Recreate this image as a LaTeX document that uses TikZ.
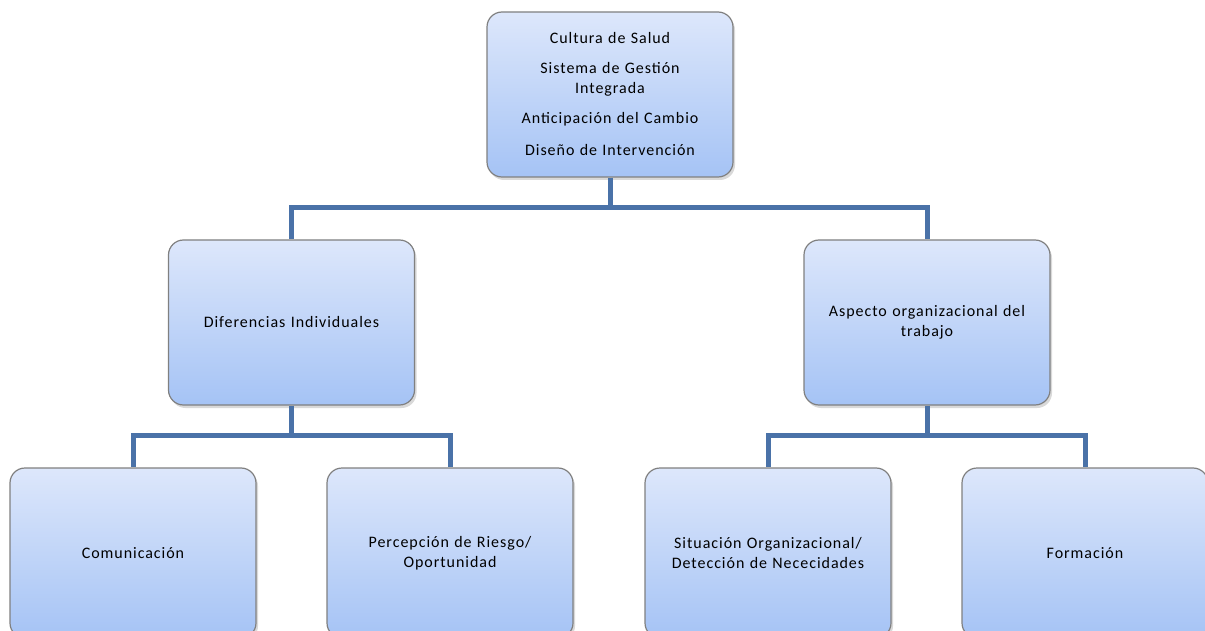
\documentclass[tikz,border=0pt]{standalone}
\usepackage{fontspec}
\setmainfont{Carlito}[LetterSpace=6]
\usetikzlibrary{shadows}
\definecolor{boxtop}{HTML}{DDE7FB}
\definecolor{boxbot}{HTML}{A5C3F5}
\definecolor{boxline}{HTML}{808080}
\definecolor{conn}{HTML}{4A72A8}
\tikzset{
  orgbox/.style={draw=boxline, line width=1.2pt, rounded corners=15pt,
    top color=boxtop, bottom color=boxbot,
    minimum width=246pt, minimum height=165pt, inner sep=4pt,
    align=center, text width=230pt,
    font=\fontsize{16}{20}\selectfont,
    drop shadow={opacity=0.3, shadow xshift=2pt, shadow yshift=-3pt}},
  lowbox/.style={orgbox, minimum height=170pt},
  connector/.style={draw=conn, line width=5pt}
}
\begin{document}
\begin{tikzpicture}[x=1pt,y=-1pt]
\useasboundingbox (0,0) rectangle (1205,631);
\begin{scope}
\clip (0,0) rectangle (1205,631);
\node[orgbox] (top) at (610,94.5) {Cultura de Salud\\[10pt]Sistema  de Gestión\\Integrada\\[10pt]Anticipación del Cambio\\[12pt]Diseño de Intervención};
\node[orgbox] (left) at (291.5,322.5) {Diferencias  Individuales};
\node[orgbox] (right) at (927,322.5) {Aspecto organizacional  del\\trabajo};
\node[lowbox] (comm) at (133,553) {Comunicación};
\node[lowbox] (perc) at (450,553) {Percepción de Riesgo/\\Oportunidad};
\node[lowbox] (situ) at (768,553) {Situación Organizacional/\\Detección de Nececidades};
\node[lowbox] (form) at (1085,553) {Formación};
\coordinate (j1) at ([yshift=-30pt]top.south);
\coordinate (j2) at ([yshift=-30pt]left.south);
\coordinate (j3) at ([yshift=-30pt]right.south);
\draw[connector] (top.south) -- (j1);
\draw[connector] (j1) -| (left.north);
\draw[connector] (j1) -| (right.north);
\draw[connector] (left.south) -- (j2);
\draw[connector] (j2) -| (comm.north);
\draw[connector] (j2) -| (perc.north);
\draw[connector] (right.south) -- (j3);
\draw[connector] (j3) -| (situ.north);
\draw[connector] (j3) -| (form.north);
\end{scope}
\end{tikzpicture}
\end{document}
